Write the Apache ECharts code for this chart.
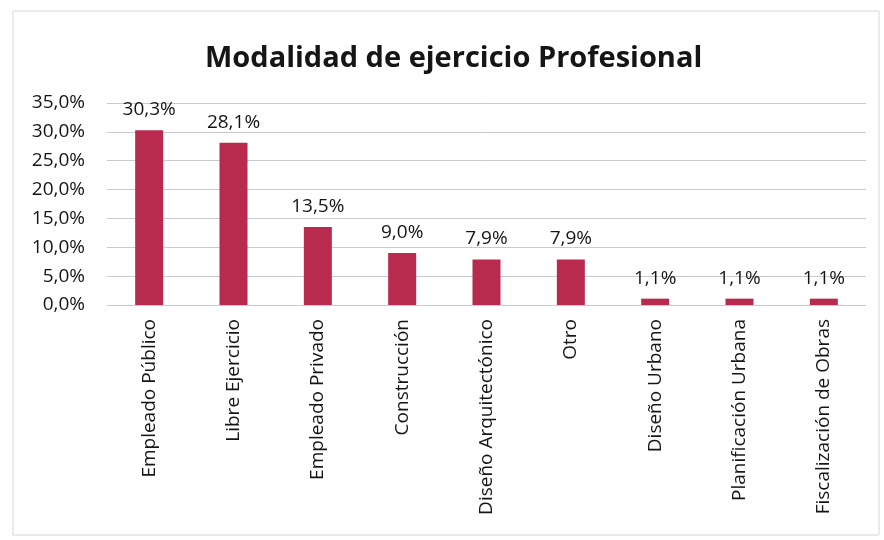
<!DOCTYPE html>
<html>
<head>
<meta charset="utf-8">
<script src="https://cdn.jsdelivr.net/npm/echarts@6/dist/echarts.min.js"></script>
<style>
  html, body { margin: 0; padding: 0; background: #fff; }
  #chart { width: 884px; height: 540px; }
</style>
</head>
<body>
<div id="chart"></div>
<script>
// Distribution of professional practice modes (percent of respondents)
const categories = [
  'Empleado Público', 'Libre Ejercicio', 'Empleado Privado', 'Construcción',
  'Diseño Arquitectónico', 'Otro', 'Diseño Urbano', 'Planificación Urbana',
  'Fiscalización de Obras'
];
const shares = [30.3, 28.1, 13.5, 9.0, 7.9, 7.9, 1.1, 1.1, 1.1];
const yTicks = { min: 0, max: 35, step: 5 };

const fmt = v => v.toFixed(1).replace('.', ',') + '%';
const FONT = '"Open Sans", "Noto Sans", sans-serif';

const chart = echarts.init(document.getElementById('chart'), null, { renderer: 'canvas' });
chart.setOption({
  backgroundColor: '#ffffff',
  animation: false,
  graphic: [{
    type: 'rect',
    shape: { x: 13, y: 11, width: 866, height: 524 },
    style: { fill: 'none', stroke: '#d6d6d6', lineWidth: 1 }
  }],
  title: {
    text: 'Modalidad de ejercicio Profesional',
    left: 200,
    top: 39,
    textStyle: { fontFamily: FONT, fontSize: 29, fontWeight: 'bold', color: '#151515' }
  },
  grid: { left: 107, right: 18, top: 103, bottom: 235, containLabel: false },
  xAxis: {
    type: 'category',
    data: categories,
    axisLine: { show: false },
    axisTick: { show: false },
    axisLabel: {
      rotate: 90,
      interval: 0,
      margin: 14,
      fontFamily: FONT,
      fontSize: 19,
      color: '#151515'
    }
  },
  yAxis: {
    type: 'value',
    min: yTicks.min,
    max: yTicks.max,
    interval: yTicks.step,
    axisLine: { show: false },
    axisTick: { show: false },
    axisLabel: {
      formatter: v => fmt(v),
      fontFamily: FONT,
      fontSize: 19,
      color: '#151515',
      margin: 22
    },
    splitLine: { lineStyle: { color: '#c9c9d0', width: 1 } }
  },
  series: [{
    type: 'bar',
    data: shares,
    barWidth: 28,
    itemStyle: { color: '#b82a4e' },
    label: {
      show: true,
      position: 'top',
      distance: 11,
      formatter: p => fmt(p.value),
      fontFamily: FONT,
      fontSize: 19,
      color: '#151515'
    }
  }]
});
</script>
</body>
</html>
